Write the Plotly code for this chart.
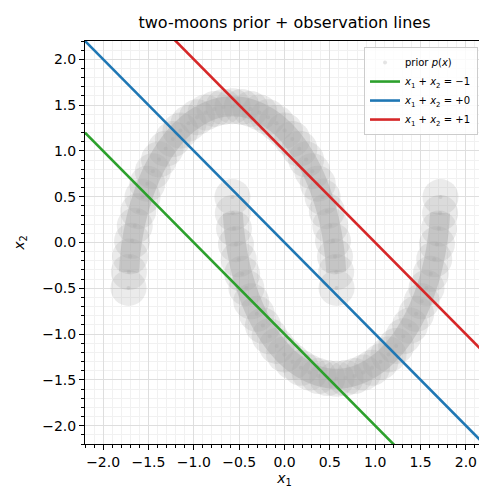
import plotly.graph_objects as go

# centre line of the upper moon (left end -> right end)
upper_x = [-1.720, -1.716, -1.703, -1.681, -1.651, -1.613, -1.566, -1.513, -1.452, -1.384,
           -1.310, -1.231, -1.147, -1.058, -0.965, -0.870, -0.772, -0.673, -0.573, -0.473,
           -0.374, -0.276, -0.181, -0.088, 0.001, 0.085, 0.164, 0.238, 0.306, 0.367,
           0.420, 0.467, 0.505, 0.535, 0.557, 0.570, 0.574]
upper_y = [-0.496, -0.323, -0.152, 0.018, 0.183, 0.342, 0.496, 0.642, 0.779, 0.907,
           1.024, 1.129, 1.222, 1.302, 1.368, 1.420, 1.458, 1.480, 1.488, 1.480,
           1.458, 1.420, 1.368, 1.302, 1.222, 1.129, 1.024, 0.907, 0.779, 0.642,
           0.496, 0.342, 0.183, 0.018, -0.152, -0.323, -0.496]

# centre line of the lower moon (right end -> left end)
lower_x = [1.720, 1.716, 1.703, 1.681, 1.651, 1.613, 1.566, 1.513, 1.452, 1.384,
           1.310, 1.231, 1.147, 1.058, 0.965, 0.870, 0.772, 0.673, 0.573, 0.473,
           0.374, 0.276, 0.181, 0.088, -0.001, -0.085, -0.164, -0.238, -0.306, -0.367,
           -0.420, -0.467, -0.505, -0.535, -0.557, -0.570, -0.574]
lower_y = [0.496, 0.323, 0.152, -0.018, -0.183, -0.342, -0.496, -0.642, -0.779, -0.907,
           -1.024, -1.129, -1.222, -1.302, -1.368, -1.420, -1.458, -1.480, -1.488, -1.480,
           -1.458, -1.420, -1.368, -1.302, -1.222, -1.129, -1.024, -0.907, -0.779, -0.642,
           -0.496, -0.342, -0.183, -0.018, 0.152, 0.323, 0.496]

# observation lines x1 + x2 = c
offsets = [-1, 0, 1]
line_colors = ['#2ca02c', '#1f77b4', '#d62728']
line_names = ['<i>x</i><sub>1</sub> + <i>x</i><sub>2</sub> = −1',
              '<i>x</i><sub>1</sub> + <i>x</i><sub>2</sub> = +0',
              '<i>x</i><sub>1</sub> + <i>x</i><sub>2</sub> = +1']
x_range = [-2.2, 2.2]

moon_x = upper_x + lower_x
moon_y = upper_y + lower_y

fig = go.Figure()

# prior cloud: soft blobs along the moon centre lines plus a smooth core
fig.add_trace(go.Scatter(x=moon_x, y=moon_y, mode='markers',
                         marker=dict(color='rgba(165,165,165,0.22)', size=36, line_width=0),
                         showlegend=False, hoverinfo='skip'))
for mx, my in [(upper_x, upper_y), (lower_x, lower_y)]:
    fig.add_trace(go.Scatter(x=mx[1:-1], y=my[1:-1], mode='lines', line_shape='spline',
                             line=dict(color='rgba(165,165,165,0.40)', width=20),
                             showlegend=False, hoverinfo='skip'))
fig.add_trace(go.Scatter(x=moon_x, y=moon_y, mode='markers',
                         marker=dict(color='rgba(170,170,170,0.30)', size=4, line_width=0),
                         name='prior <i>p</i>(<i>x</i>)'))

for c, col, nm in zip(offsets, line_colors, line_names):
    fig.add_trace(go.Scatter(x=x_range, y=[c - v for v in x_range], mode='lines',
                             line=dict(color=col, width=2.6), name=nm))

axis_style = dict(range=x_range, dtick=0.5, tickformat='.1f', showline=True, linecolor='black',
                  linewidth=1, mirror=True, ticks='outside', ticklen=5, tickcolor='black',
                  showgrid=True, gridcolor='#dedede', gridwidth=0.8, zeroline=False,
                  tickfont=dict(size=14, color='black'),
                  minor=dict(dtick=0.1, ticks='outside', ticklen=3, tickcolor='black',
                             showgrid=True, gridcolor='#f1f1f1', gridwidth=0.6))

fig.update_xaxes(**axis_style, title=dict(text='<i>x</i><sub>1</sub>', font=dict(size=14), standoff=2))
fig.update_yaxes(**axis_style, title=dict(text='<i>x</i><sub>2</sub>', font=dict(size=14), standoff=14))

fig.update_layout(
    width=487, height=490,
    margin=dict(l=74, r=10, t=33, b=54),
    plot_bgcolor='white', paper_bgcolor='white',
    font=dict(family='DejaVu Sans', color='black'),
    title=dict(text='two-moons prior + observation lines', x=0.5, xref='paper', xanchor='center',
               y=0.97, yref='container', yanchor='middle', font=dict(size=16)),
    legend=dict(x=0.985, y=0.985, xanchor='right', yanchor='top', bgcolor='rgba(255,255,255,0.85)',
                bordercolor='#cccccc', borderwidth=1, font=dict(size=10), itemwidth=30,
                tracegroupgap=0),
)

fig.write_html("out.html")
